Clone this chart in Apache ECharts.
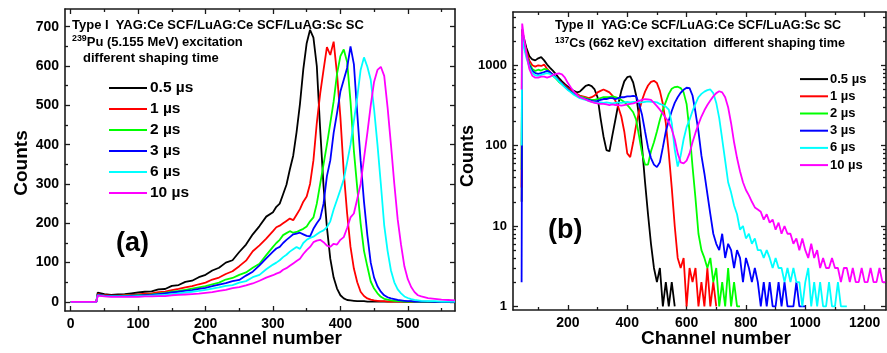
<!DOCTYPE html>
<html><head><meta charset="utf-8">
<script src="https://cdn.jsdelivr.net/npm/echarts@6/dist/echarts.min.js"></script>
<style>html,body{margin:0;padding:0;background:#fff}#c{width:887px;height:353px}</style>
</head><body><div id="c"></div>
<script>
// ---------- data ----------
const names = ['0.5 µs', '1 µs', '2 µs', '3 µs', '6 µs', '10 µs'];
const colors = ['#000000', '#ff0000', '#00ff00', '#0000ff', '#00ffff', '#ff00ff'];

// Panel (a): 239Pu alpha spectra, channel -> counts
const chA = [0,38,40,50,60,70,80,90,100,110,120,130,140,150,160,170,180,190,200,210,220,230,240,250,260,270,280,290,
  300,305,310,315,320,325,330,335,340,345,350,355,360,365,370,375,380,385,390,395,400,405,410,415,420,425,430,435,440,445,
  450,455,460,465,470,475,480,485,490,495,500,505,510,515,520,530,540,550,560,570];
const a05 = [0,0,24,20,18,19,20,22,24,26,27,32,33,41,43,51,54,63,69,80,87,100,106,127,146,172,193,217,
  228,242,250,274,298,337,372,432,503,592, 658,692,672,600,440,295,190,110,62,34, 17,9,5,4,3,2,2,2,1,1,
  1,1,1,1,1,1,1,1,1,0, 0,1,0,0,0, 0,0,0,0,0];
const a1 = [0,0,20,17,16,16,17,18,19,21,22,25,26,30,33,37,40,45,49,57,62,71,78,91,105,129,144,161,
  180,190,194,200,206,212,208,222,236,255, 268,300,360,455,530,590,648,628,662,580, 470,330,225,140,85,50,26,15,9,6,
  4,3,2,2,1,1,1,1,1,1, 1,0,1,0,0, 0,0,0,0,0];
const a2 = [0,0,18,16,15,15,16,16,17,18,19,21,23,26,28,31,34,37,40,45,49,57,61,69,75,87,97,119,
  140,150,158,170,175,180,176,178,182,186, 192,205,215,250,300,350,400,455,510,580, 625,642,610,510,385,290,200,130,90,52,
  34,22,13,8,6,4,3,2,2,1, 1,1,1,0,0, 0,0,0,0,0];
const a3 = [0,0,18,16,15,15,15,16,16,17,18,20,22,24,26,28,30,33,36,40,44,48,53,56,67,77,93,111,
  128,136,140,150,158,165,172,174,176,172, 168,167,186,200,212,250,320,360,430,480, 535,565,595,650,605,480,360,255,170,100,
  62,40,26,17,12,9,7,5,4,3, 2,2,1,1,1, 1,0,0,0,0];
const a6 = [0,0,17,15,14,14,14,14,15,15,16,17,18,20,22,24,26,28,31,34,37,41,43,49,53,63,69,83,
  95,100,106,114,120,128,134,140,135,150, 158,163,166,172,178,182,190,205,235,260, 285,312,355,400,460,520,590,622,598,565,
  490,400,300,195,130,80,50,32,22,14, 10,7,5,4,3, 2,2,1,1,1];
const a10 = [0,0,16,14,13,13,13,13,13,14,14,15,15,17,18,19,20,21,23,25,28,31,35,38,42,47,54,62,
  68,72,75,82,86,92,98,104,110,122, 132,140,152,156,158,152,143,140,148,146, 158,165,188,215,225,262,300,365,430,500,
  560,590,598,575,495,400,300,210,145,90, 58,38,25,17,14, 10,8,6,5,4];

// Panel (b): 137Cs gamma spectra, channel -> counts (log scale)
const chB = [44,46,50,60,70,80,90,100,110,120,130,140,150,160,170,180,190,200,210,220,230,240,250,260,270,280,290,
  300,310,320,330,340,350,360,370,380,390,400,410,420,430,440,450,460,470,480,490,500,510,520,530,540,550,560,570,580,590,
  600,610,620,630,640,650,660,670,680,690,700,710,720,730,740,750,760,770,780,790,800,810,820,830,840,850,860,870,880,890,
  900,910,920,930,940,950,960,970,980,990,1000,1010,1020,1030,1040,1050,1060,1070,1080,1090,1100,1110,1120,1130,1140,
  1150,1160,1170,1180,1190,1200,1210,1220,1230,1240,1250,1260,1270];
const b05 = [20,2800, 2300,1650,1300,1180,1150,1220,1260,1150,1020,930, 850,770,690,630,580,540,500,480,460,470,
  510,555,570,550,500,400,220,130,88,85, 135,210,330,480,630,710,730,610,420,230, 95,35,14,6,3,2,3,1,2,1, 2,1];
const b1 = [30,2600, 2100,1500,1150,1000,960,1000,980,1020,900,820, 760,700,650,600,560,520,490,460,440,420,
  410,400,390,400,420,460,480,500,480,460, 420,360,300,230,150,80,72,110,180,270, 370,470,560,620,640,600,480,330,190,80,
  30,10,4,3,4,1,3,2,3,1, 2,1,3,1,2,1];
const b2 = [50,2500, 2000,1400,1050,900,850,880,860,900,880,800, 740,680,620,580,540,500,470,450,430,410,
  400,390,380,370,370,380,390,400,400,400, 410,400,390,370,350,320,290,260,210,130, 80,58,58,85,110,150,210,280,350,440,
  510,535,540,520,460,330,150,55,22,8, 5,4,3,4,2,3,1,2,1,3, 1,2,1,1];
const b3 = [2,2400, 1900,1350,1000,850,800,780,800,820,850,820, 760,700,640,590,540,500,470,440,420,400,
  390,380,370,360,355,360,370,380,380,390, 390,380,390,400,400,410,410,415,410,330, 240,150,95,70,58,54,62,95,150,205,
  270,340,400,455,495,525,520,420,260,150, 75,45,25,14,8,6,5,8,4,6, 5,3,5,4,2,4,3,2,3,2,
  1,2,1,2,1,1,2,1,2,1, 1,1,2,1,1,1];
const b6 = [100,2300, 1800,1250,950,800,750,740,760,780,800,780, 740,690,630,580,530,490,460,430,410,390,
  380,370,360,350,345,340,345,340,345,340, 335,340,345,340,345,350,345,350,350,345, 345,350,355,350,350,345,330,320,305,280,
  190,90,55,75,120,170,210,270,330,400, 440,470,490,500,450,340,220,120,65,35, 26,18,14,9,10,7,8,6,7,5,
  5,4,5,4,3,4,3,3,2,3, 2,3,2,2,1,2,3,1,2,1, 2,1,1,2,1,1,2,1,1,1];
const b10 = [500,3300, 2500,1400,900,740,700,700,720,720,700,720, 760,780,790,770,700,600,530,470,430,400,
  390,375,360,350,340,335,330,330,325,320, 325,320,320,315,320,325,330,335,345,360, 370,380,375,370,340,310,280,250,220,195,
  160,120,80,62,60,65,80,110,145,185, 230,275,320,365,410,450,475,460,400,300, 190,110,70,48,35,28,24,20,17,16,
  15,12,14,11,12,9,11,8,10,8, 8,6,7,5,7,5,4,6,4,5, 3,4,3,3,4,3,3,2,3,3, 2,3,2,2,3,2,2,3,2,2, 3,2,2];

// axis tick / label values
const xTicksA = [0,100,200,300,400,500];
const xMinorA = [50,150,250,350,450,550];
const yTicksA = [0,100,200,300,400,500,600,700];
const yMinorA = [50,150,250,350,450,550,650];
const xTicksB = [200,400,600,800,1000,1200];
const xMinorB = [100,300,500,700,900,1100];
const yTicksB = [1,10,100,1000];
const yMinorB = [2,3,4,5,6,7,8,9,20,30,40,50,60,70,80,90,200,300,400,500,600,700,800,900,2000,3000,4000];

// ---------- chart ----------
const FONT = '"Liberation Sans", Arial, sans-serif';
const LC = '#1a1a1a';
const fmt = v => String(Math.round(v));

function ax(type, grid, min, max, pos, ticks, labels, len, showLine, fs) {
  return {
    type: type, gridIndex: grid, min: min, max: max, position: pos,
    logBase: 10,
    axisLine: { show: showLine, onZero: false, lineStyle: { color: LC, width: 1.6 } },
    axisTick: { show: true, inside: true, length: len, customValues: ticks, lineStyle: { color: LC, width: 1.3 } },
    axisLabel: labels ? { show: true, customValues: labels, formatter: fmt, margin: 6, color: '#000',
      fontSize: fs, fontWeight: 'bold', fontFamily: FONT } : { show: false },
    splitLine: { show: false }, minorTick: { show: false }
  };
}

const xAxis = [
  ax('value', 0, -8.5, 570, 'bottom', xTicksA, xTicksA, 5, true, 14),
  ax('value', 0, -8.5, 570, 'bottom', xMinorA, null, 3, false),
  ax('value', 0, -8.5, 570, 'top', xTicksA, null, 5, true),
  ax('value', 0, -8.5, 570, 'top', xMinorA, null, 3, false),
  ax('value', 1, 15, 1272, 'bottom', xTicksB, xTicksB, 5, true, 14),
  ax('value', 1, 15, 1272, 'bottom', xMinorB, null, 3, false),
  ax('value', 1, 15, 1272, 'top', xTicksB, null, 5, true),
  ax('value', 1, 15, 1272, 'top', xMinorB, null, 3, false)
];
const yAxis = [
  ax('value', 0, -23, 745, 'left', yTicksA, yTicksA, 5, true, 14),
  ax('value', 0, -23, 745, 'left', yMinorA, null, 3, false),
  ax('value', 0, -23, 745, 'right', yTicksA, null, 5, true),
  ax('value', 0, -23, 745, 'right', yMinorA, null, 3, false),
  ax('log', 1, 0.9, 4600, 'left', yTicksB, yTicksB, 5, true, 13),
  ax('log', 1, 0.9, 4600, 'left', yMinorB, null, 3, false),
  ax('log', 1, 0.9, 4600, 'right', yTicksB, null, 5, true),
  ax('log', 1, 0.9, 4600, 'right', yMinorB, null, 3, false)
];

const setsA = [a05, a1, a2, a3, a6, a10];
const setsB = [b05, b1, b2, b3, b6, b10];
const series = [];
setsA.forEach((vals, k) => series.push({
  type: 'line', name: names[k], xAxisIndex: 0, yAxisIndex: 0, symbol: 'none', clip: true,
  color: colors[k], lineStyle: { width: 1.8, color: colors[k] }, itemStyle: { color: colors[k] },
  data: vals.map((v, i) => [chA[i], v])
}));
setsB.forEach((vals, k) => series.push({
  type: 'line', name: names[k], xAxisIndex: 4, yAxisIndex: 4, symbol: 'none', clip: true,
  color: colors[k], lineStyle: { width: 1.8, color: colors[k] }, itemStyle: { color: colors[k] },
  data: vals.map((v, i) => [chB[i], v])
}));

const t = (x, y, text, size, extra) => Object.assign({
  type: 'text', x: x, y: y, silent: true,
  style: { text: text, fill: '#000', font: 'bold ' + size + 'px ' + FONT, verticalAlign: 'middle', align: 'left' }
}, extra || {});
const sup = (x, y, s, rest, size) => ({
  type: 'text', x: x, y: y, silent: true,
  style: {
    text: '{s|' + s + '}{n|' + rest + '}', verticalAlign: 'middle', align: 'left', fill: '#000',
    rich: {
      s: { fontSize: size * 0.68, fontWeight: 'bold', fontFamily: FONT, lineHeight: 8, verticalAlign: 'top', fill: '#000' },
      n: { fontSize: size, fontWeight: 'bold', fontFamily: FONT, lineHeight: 15, verticalAlign: 'middle', fill: '#000' }
    }
  }
});

const legendBase = {
  orient: 'vertical', icon: 'rect', itemHeight: 2, padding: 0,
  data: names, selectedMode: false
};

const option = {
  animation: false,
  backgroundColor: '#fff',
  grid: [
    { left: 65, top: 9, width: 390, height: 302 },
    { left: 513, top: 12, width: 373, height: 298 }
  ],
  xAxis: xAxis, yAxis: yAxis, series: series,
  legend: [
    Object.assign({}, legendBase, { left: 109, top: 79, itemWidth: 38, itemGap: 3,
      textStyle: { fontSize: 15.5, fontWeight: 'bold', fontFamily: FONT, color: '#000', lineHeight: 18, padding: [0, 0, 0, -2] } }),
    Object.assign({}, legendBase, { left: 800, top: 71.5, itemWidth: 28, itemGap: 2,
      textStyle: { fontSize: 13, fontWeight: 'bold', fontFamily: FONT, color: '#000', lineHeight: 15.2, padding: [0, 0, 0, -3] } })
  ],
  graphic: [
    t(72, 25, 'Type I  YAG:Ce SCF/LuAG:Ce SCF/LuAG:Sc SC', 13),
    sup(72, 42, '239', 'Pu (5.155 MeV) excitation', 13),
    t(83, 58, 'different shaping time', 13),
    t(555, 26, 'Type II  YAG:Ce SCF/LuAG:Ce SCF/LuAG:Sc SC', 12.6),
    sup(555, 44, '137', 'Cs (662 keV) excitation  different shaping time', 12.6),
    t(116, 244, '(a)', 27),
    t(548, 231, '(b)', 27),
    t(267, 339, 'Channel number', 19, { style: { text: 'Channel number', fill: '#000', font: 'bold 19px ' + FONT, verticalAlign: 'middle', align: 'center' } }),
    t(716, 339, 'Channel number', 19, { style: { text: 'Channel number', fill: '#000', font: 'bold 19px ' + FONT, verticalAlign: 'middle', align: 'center' } }),
    { type: 'text', x: 22, y: 163, rotation: Math.PI / 2, silent: true,
      style: { text: 'Counts', fill: '#000', font: 'bold 19px ' + FONT, verticalAlign: 'middle', align: 'center' } },
    { type: 'text', x: 468, y: 156, rotation: Math.PI / 2, silent: true,
      style: { text: 'Counts', fill: '#000', font: 'bold 18px ' + FONT, verticalAlign: 'middle', align: 'center' } }
  ]
};

const chart = echarts.init(document.getElementById('c'), null, { renderer: 'canvas' });
chart.setOption(option);
</script>
</body></html>
